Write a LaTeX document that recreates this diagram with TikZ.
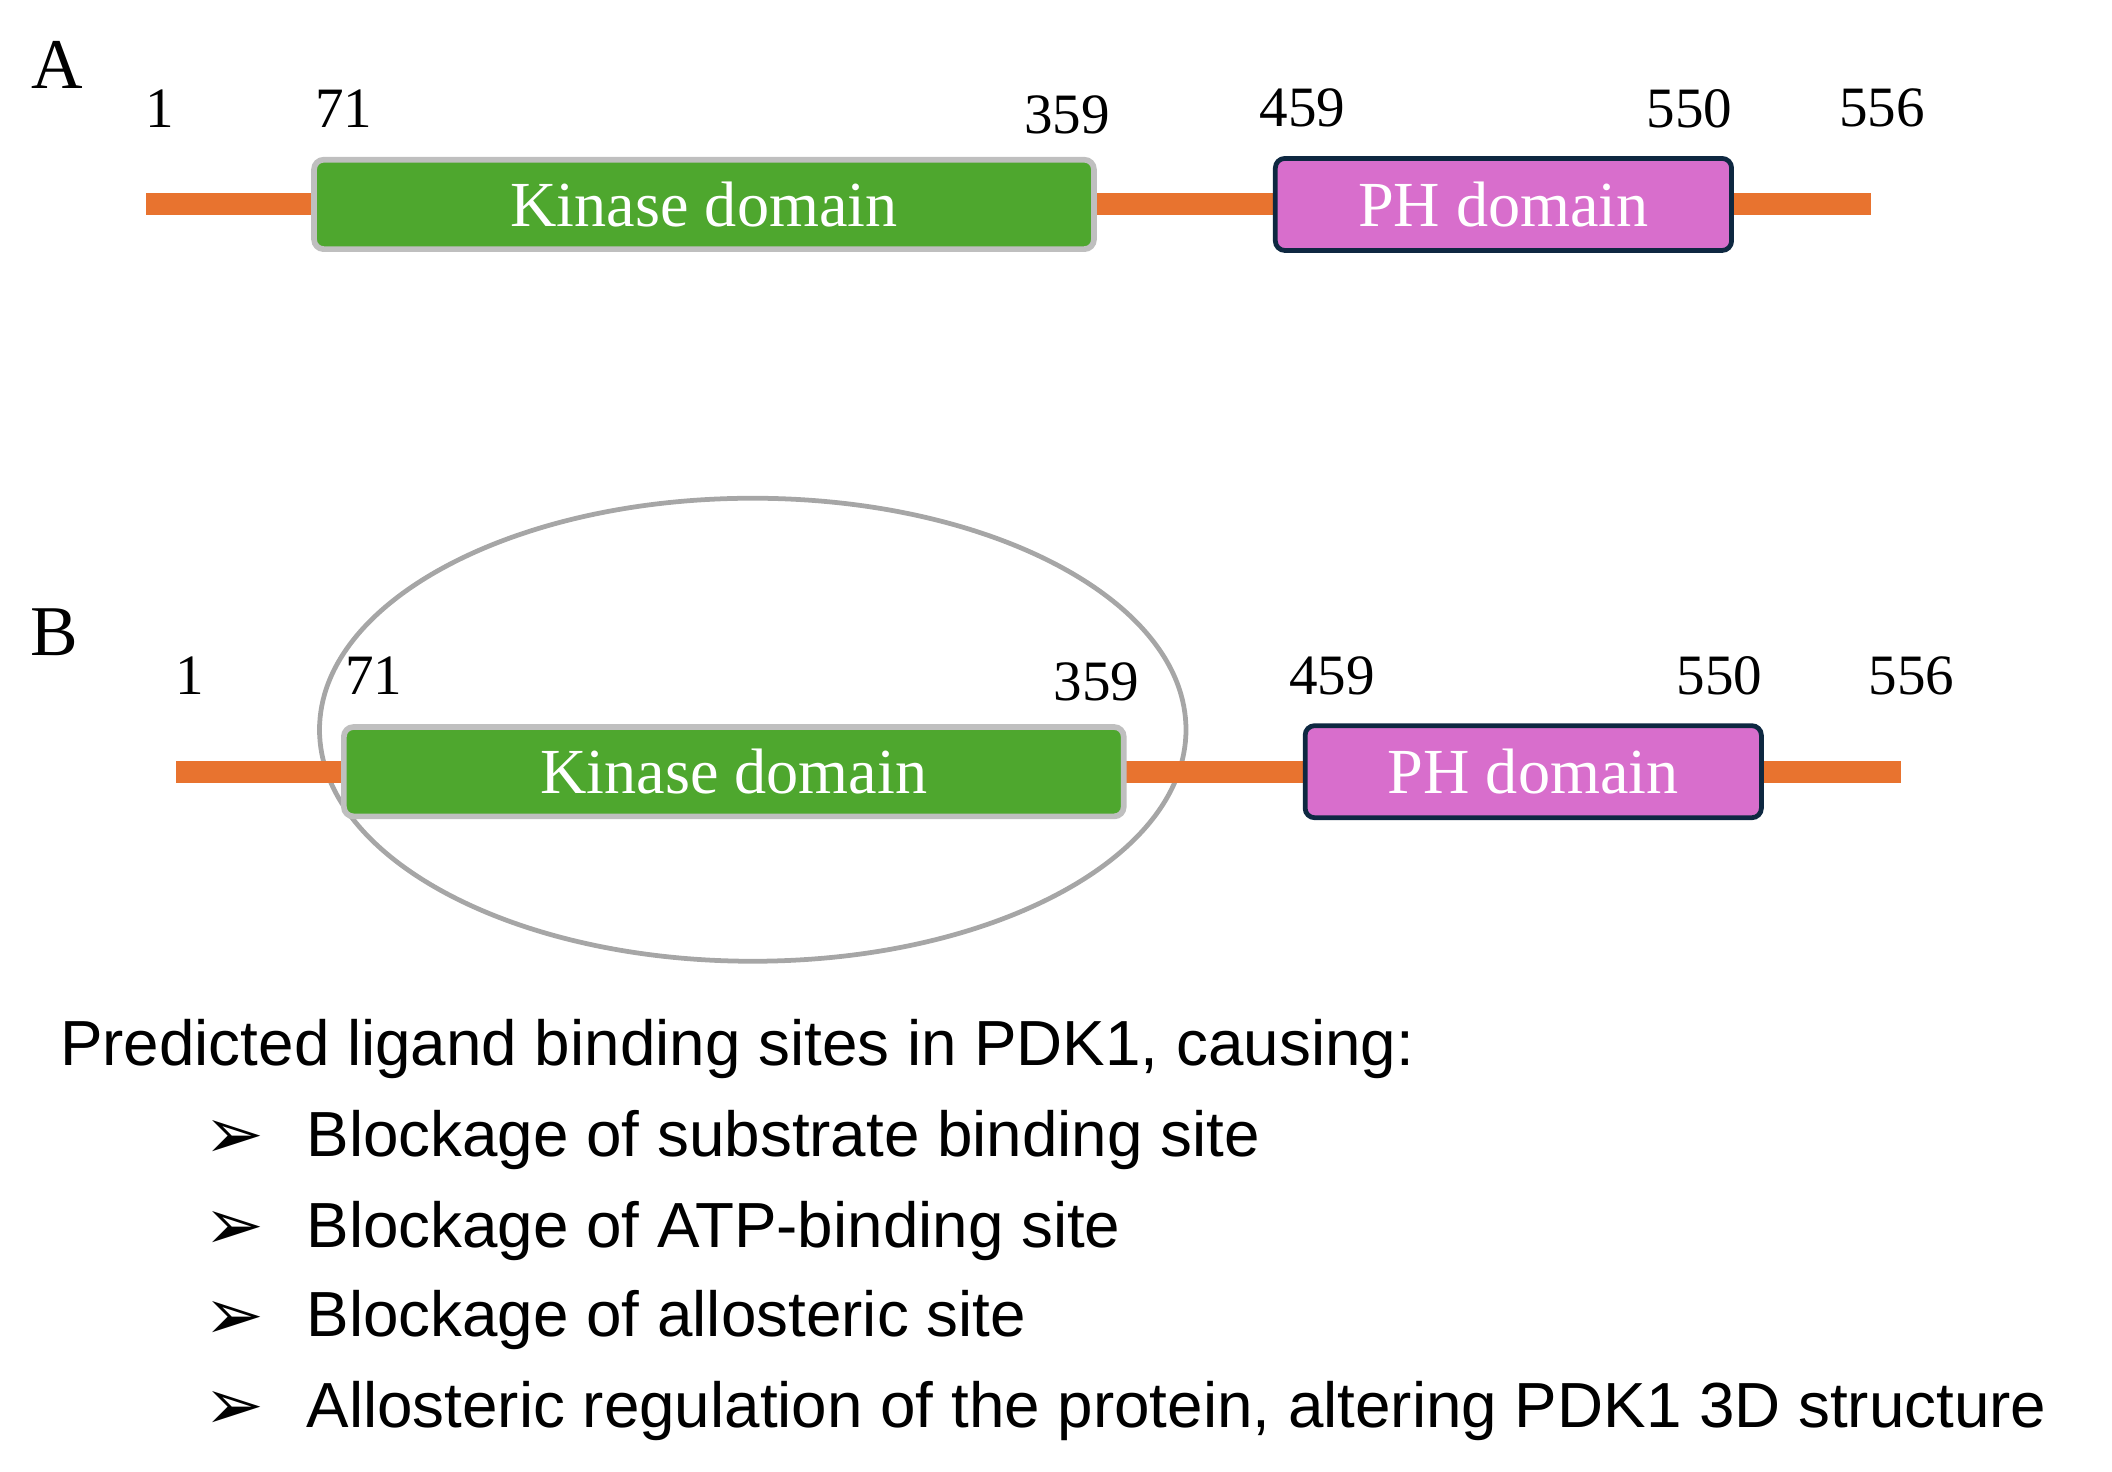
\documentclass[tikz,border=0pt]{standalone}
\usepackage{fontspec}
\setmainfont{Liberation Serif}
\newfontfamily\bodyfont{Liberation Sans}
\newfontfamily\symfont{DejaVu Sans}
\definecolor{line}{HTML}{E8732F}
\definecolor{kin}{HTML}{4EA72E}
\definecolor{ph}{HTML}{D86ECC}
\definecolor{phb}{HTML}{0E2841}
\definecolor{gb}{HTML}{BFBFBF}
\definecolor{ell}{HTML}{A6A6A6}
\tikzset{
  num/.style={font=\fontsize{12}{14}\selectfont, anchor=center},
  panel/.style={font=\fontsize{15}{18}\selectfont, anchor=center},
  kinbox/.style={draw=gb, line width=1.2pt, fill=kin, rounded corners=2pt, text=white, font=\fontsize{13.5}{16}\selectfont},
  phbox/.style={draw=phb, line width=1pt, fill=ph, rounded corners=2pt, text=white, font=\fontsize{13.5}{16}\selectfont},
  prot/.style={line, line width=4.6pt},
  item/.style={anchor=west, font=\bodyfont\fontsize{13.4}{16}\selectfont},
}
\newcommand{\panelrow}[3]{% #1 prefix, #2 dx, #3 dy
\begin{scope}[shift={(#2,#3)}]
  \coordinate (#1s) at (1.08,9.36);
  \coordinate (#1e) at (13.82,9.36);
  \draw[prot] (#1s) -- (#1e);
  \node[kinbox, minimum width=5.76cm, minimum height=0.66cm] (#1k) at (5.20,9.36) {Kinase domain};
  \node[phbox, minimum width=3.37cm, minimum height=0.68cm] (#1p) at (11.105,9.36) {PH domain};
  \node[num] (#1n1) at (1.18,10.07) {1};
  \node[num] (#1n2) at (2.54,10.07) {71};
  \node[num] (#1n3) at (7.88,10.02) {359};
  \node[num] (#1n4) at (9.62,10.07) {459};
  \node[num] (#1n5) at (12.48,10.07) {550};
  \node[num] (#1n6) at (13.90,10.07) {556};
\end{scope}}
\begin{document}
\begin{tikzpicture}
\useasboundingbox (0,0) rectangle (15.6,10.87);
\node[panel] (lA) at (0.42,10.39) {A};
\node[panel] (lB) at (0.40,6.20) {B};
\panelrow{a}{0}{0}
\draw[ell, line width=1pt] (5.56,5.48) ellipse [x radius=3.20, y radius=1.71];
\panelrow{b}{0.22}{-4.19}
\node[item] (t0) at (0.32,3.12) {Predicted ligand binding sites in PDK1, causing:};
\foreach \y/\t [count=\i] in {2.45/Blockage of substrate binding site,1.78/Blockage of ATP-binding site,1.12/Blockage of allosteric site,0.45/{Allosteric regulation of the protein, altering PDK1 3D structure}}{
  \node[font=\symfont\fontsize{15}{17}\selectfont] (b\i) at (1.73,\y) {➢};
  \node[item] (t\i) at (2.14,\y) {\t};
}
\end{tikzpicture}
\end{document}
